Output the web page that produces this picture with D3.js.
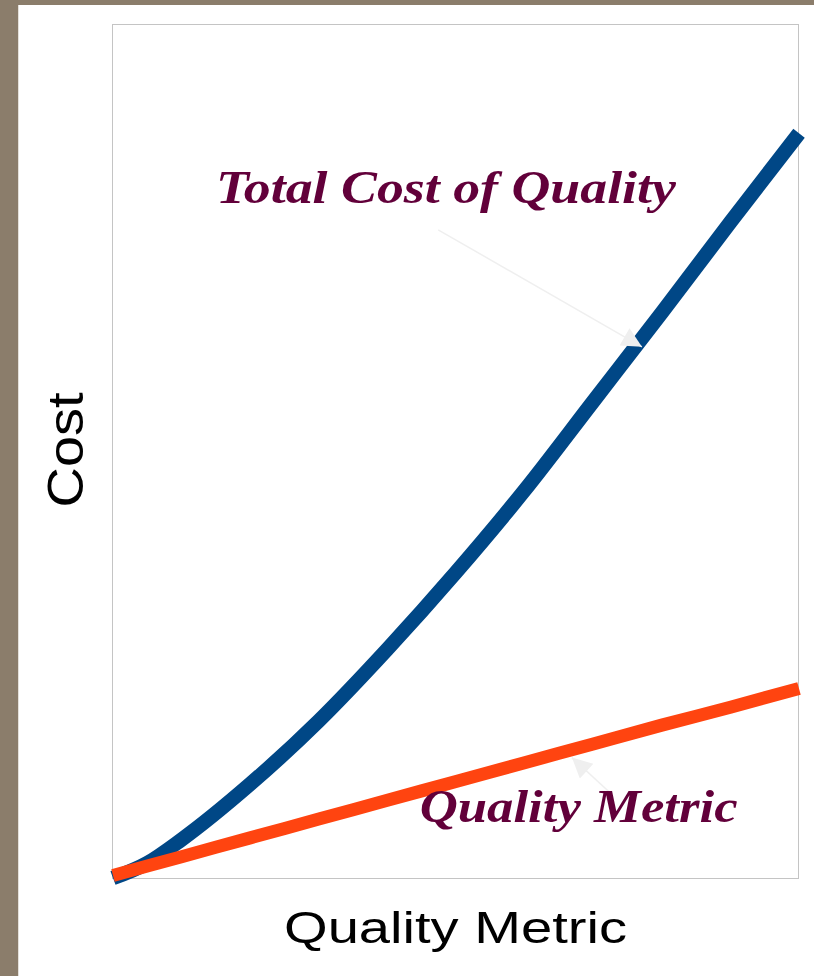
<!DOCTYPE html>
<html>
<head>
<meta charset="utf-8">
<script src="https://cdn.jsdelivr.net/npm/d3@7"></script>
<style>
  html, body { margin: 0; padding: 0; background: #fff; }
  svg { display: block; }
</style>
</head>
<body>
<svg id="chart" width="814" height="976"></svg>
<script>
// ---- data ----
const totalCostX = [0, 5, 10, 20, 30, 40, 50, 60, 70, 80, 90, 100];
const totalCost = [0, 1.75, 4.5, 11.0, 18.4, 26.8, 35.8, 45.4, 55.8, 66.2, 76.8, 87.2];
const metricX = [0, 10, 20, 30, 40, 50, 60, 70, 80, 90, 100];
const qualityMetric = [0.3, 2.5, 4.7, 6.9, 9.1, 11.3, 13.5, 15.7, 17.9, 20.0, 22.2];
const xDomain = [0, 100];
const yDomain = [0, 100];
const xTitle = "Quality Metric";
const yTitle = "Cost";
const annotations = [
  { text: "Total Cost of Quality", tx: 15, ty: 79.0, width: 460, from: [47.4, 75.9], to: [77.1, 62.2] },
  { text: "Quality Metric", tx: 44.7, ty: 6.5, width: 318, from: [72.7, 9.8], to: [66.9, 14.1] }
];

// ---- layout ----
const svg = d3.select("#chart");
const W = 814, H = 976;
const mLeft = 112.5, mRight = 798.5, mTop = 24.5, mBottom = 878.5;

// frame decoration
svg.append("rect").attr("x", 0).attr("y", 0).attr("width", W).attr("height", H).attr("fill", "#fff");
svg.append("rect").attr("x", 0).attr("y", 0).attr("width", W).attr("height", 5).attr("fill", "#8B7D6B");
svg.append("rect").attr("x", 0).attr("y", 0).attr("width", 18).attr("height", H).attr("fill", "#8B7D6B");
svg.append("rect").attr("x", 18).attr("y", 5).attr("width", 1).attr("height", H - 5).attr("fill", "#e4e0da");

const x = d3.scaleLinear().domain(xDomain).range([mLeft + 0.5, mRight + 0.5]);
const y = d3.scaleLinear().domain(yDomain).range([mBottom - 0.5, mTop - 0.5]);

// plot box
svg.append("rect")
  .attr("x", mLeft).attr("y", mTop)
  .attr("width", mRight - mLeft).attr("height", mBottom - mTop)
  .attr("fill", "none").attr("stroke", "#c4c4c4").attr("stroke-width", 1);

const line = d3.line().x(d => x(d[0])).y(d => y(d[1])).curve(d3.curveMonotoneX);

svg.append("path").datum(d3.zip(totalCostX, totalCost))
  .attr("d", line)
  .attr("fill", "none").attr("stroke", "#004786").attr("stroke-width", 14.5)
  .attr("stroke-linecap", "butt");

svg.append("path").datum(d3.zip(metricX, qualityMetric))
  .attr("d", line)
  .attr("fill", "none").attr("stroke", "#ff4410").attr("stroke-width", 13)
  .attr("stroke-linecap", "butt");

// annotation arrows
const defs = svg.append("defs");
defs.append("marker")
  .attr("id", "ah").attr("viewBox", "0 0 10 10")
  .attr("refX", 10).attr("refY", 5)
  .attr("markerWidth", 30).attr("markerHeight", 20)
  .attr("markerUnits", "userSpaceOnUse")
  .attr("orient", "auto")
  .append("path").attr("d", "M0,0 L10,5 L0,10 Z").attr("fill", "#efefef");

annotations.forEach(a => {
  svg.append("line")
    .attr("x1", x(a.from[0])).attr("y1", y(a.from[1]))
    .attr("x2", x(a.to[0])).attr("y2", y(a.to[1]))
    .attr("stroke", "#efefef").attr("stroke-width", 1.5)
    .attr("marker-end", "url(#ah)");
  svg.append("text")
    .attr("x", x(a.tx)).attr("y", y(a.ty))
    .attr("font-family", "'Liberation Serif', 'DejaVu Serif', serif")
    .attr("font-style", "italic").attr("font-weight", "bold")
    .attr("font-size", 47)
    .attr("fill", "#62003a")
    .attr("textLength", a.width).attr("lengthAdjust", "spacingAndGlyphs")
    .text(a.text);
});

// axis titles
svg.append("text")
  .attr("x", (mLeft + mRight) / 2).attr("y", 943)
  .attr("text-anchor", "middle")
  .attr("font-family", "'Liberation Sans', Arial, sans-serif")
  .attr("font-size", 45).attr("fill", "#000")
  .attr("textLength", 343).attr("lengthAdjust", "spacingAndGlyphs")
  .text(xTitle);

svg.append("text")
  .attr("transform", "translate(83,450) rotate(-90)")
  .attr("text-anchor", "middle")
  .attr("font-family", "'Liberation Sans', Arial, sans-serif")
  .attr("font-size", 50).attr("fill", "#000")
  .attr("textLength", 115).attr("lengthAdjust", "spacingAndGlyphs")
  .text(yTitle);
</script>
</body>
</html>
